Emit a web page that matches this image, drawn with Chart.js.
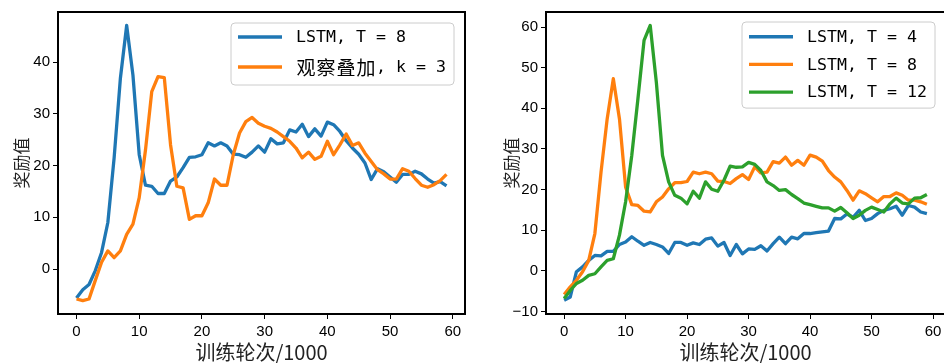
<!DOCTYPE html>
<html>
<head>
<meta charset="utf-8">
<script src="https://cdn.jsdelivr.net/npm/chart.js@4.4.1/dist/chart.umd.min.js"></script>
<style>
  html, body { margin: 0; padding: 0; background: #fff; overflow: hidden; width: 944px; height: 363px; }
  canvas { position: absolute; top: 0; }
  #leftChart { left: 0; }
  #rightChart { left: 472px; }
</style>
</head>
<body>
<canvas id="leftChart" width="472" height="363"></canvas>
<canvas id="rightChart" width="480" height="363"></canvas>
<script>
const epochs = [0, 1, 2, 3, 4, 5, 6, 7, 8, 9, 10, 11, 12, 13, 14, 15, 16, 17, 18, 19,
  20, 21, 22, 23, 24, 25, 26, 27, 28, 29, 30, 31, 32, 33, 34, 35, 36, 37, 38, 39,
  40, 41, 42, 43, 44, 45, 46, 47, 48, 49, 50, 51, 52, 53, 54, 55, 56, 57, 58, 59];

const xTicks = [0, 10, 20, 30, 40, 50, 60];
const leftYTicks = [0, 10, 20, 30, 40];
const rightYTicks = [-10, 0, 10, 20, 30, 40, 50, 60];

// left panel
const leftLabels = ["LSTM, T = 8", "观察叠加, k = 3"];
const leftLstm8 = [-5.6, -4.0, -3.0, -0.3, 3.2, 9.0, 21.5, 36.9, 47.1, 37.5,
  22.1, 16.2, 16.0, 14.6, 14.6, 17.0, 17.8, 19.6, 21.6, 21.7,
  22.1, 24.4, 23.8, 24.4, 23.8, 22.2, 22.1, 21.6, 22.6, 23.8,
  22.6, 25.2, 24.2, 24.4, 26.9, 26.5, 28.0, 25.6, 27.1, 25.7,
  28.4, 27.9, 26.6, 24.8, 23.4, 22.2, 20.5, 17.3, 19.4, 18.8,
  17.8, 16.8, 18.3, 18.3, 18.9, 18.4, 17.4, 16.6, 16.9, 16.1];
const leftStack3 = [-5.8, -6.1, -5.8, -2.2, 1.3, 3.5, 2.2, 3.5, 6.7, 8.7,
  13.8, 23.0, 34.3, 37.2, 37.0, 24.0, 16.0, 15.7, 9.6, 10.3,
  10.3, 12.8, 17.4, 16.2, 16.2, 22.1, 26.3, 28.5, 29.3, 28.2,
  27.6, 27.2, 26.5, 25.6, 24.7, 23.4, 21.5, 22.6, 21.2, 21.8,
  24.7, 22.1, 24.0, 26.1, 23.9, 24.4, 22.4, 20.8, 19.2, 18.4,
  17.4, 17.4, 19.4, 18.9, 17.5, 16.2, 15.8, 16.3, 17.1, 18.3];

// right panel
const rightLabels = ["LSTM, T = 4", "LSTM, T = 8", "LSTM, T = 12"];
const rightLstm4 = [-7.2, -6.4, -0.2, 1.0, 2.6, 3.8, 3.7, 4.8, 4.8, 6.5,
  7.1, 8.4, 7.3, 6.3, 7.0, 6.5, 5.9, 4.3, 7.0, 7.0,
  6.3, 6.9, 6.5, 7.8, 8.1, 6.1, 7.0, 3.8, 6.5, 4.2,
  5.4, 5.3, 6.2, 4.9, 6.7, 8.3, 6.7, 8.3, 7.9, 9.2,
  9.2, 9.4, 9.6, 9.8, 12.9, 12.8, 14.0, 13.2, 14.9, 12.4,
  12.9, 14.1, 14.9, 15.3, 15.9, 13.7, 16.1, 15.7, 14.5, 14.1];
const rightLstm8 = [-5.8, -3.9, -2.3, -0.2, 2.6, 9.2, 24.3, 37.4, 47.3, 37.4,
  20.6, 16.3, 16.1, 14.7, 14.5, 17.0, 18.2, 20.2, 21.7, 21.7,
  22.0, 24.3, 23.9, 24.3, 23.9, 22.1, 22.0, 21.5, 22.7, 23.7,
  22.5, 25.6, 24.1, 24.3, 26.9, 26.5, 28.0, 26.0, 27.2, 26.0,
  28.5, 28.0, 27.0, 24.7, 23.1, 21.9, 19.8, 17.4, 19.7, 19.0,
  18.0, 17.0, 18.3, 18.3, 19.2, 18.6, 17.4, 17.4, 17.0, 16.4];
const rightLstm12 = [-6.8, -4.8, -3.1, -2.3, -1.1, -0.7, 1.0, 2.6, 3.0, 8.8,
  17.0, 28.4, 42.3, 56.7, 60.4, 46.4, 28.4, 21.9, 18.6, 17.9,
  16.5, 19.6, 17.9, 21.9, 20.1, 19.6, 22.3, 25.8, 25.5, 25.6,
  26.7, 26.2, 24.7, 21.9, 21.0, 19.8, 20.0, 18.8, 17.8, 16.7,
  16.3, 15.9, 15.5, 15.5, 14.7, 15.6, 14.3, 12.9, 13.7, 14.9,
  15.7, 15.1, 14.5, 16.5, 17.9, 16.7, 16.5, 17.9, 18.0, 18.8];

const colors = ["#1f77b4", "#ff7f0e", "#2ca02c"];
const tickFont = { family: '"Liberation Sans", Arial, sans-serif', size: 15 };
const cjkFamily = '"Noto Sans CJK SC", sans-serif';

// SimHei-like: half-width cells for latin, full cells for CJK
function drawMixed(ctx, text, x, y, draw) {
  let cx = x;
  for (const ch of text) {
    const wide = ch.charCodeAt(0) > 0x2e80;
    const cell = wide ? 20 : 10;
    if (draw) {
      ctx.font = wide ? '19px "Noto Sans CJK SC"' : '16.6px "DejaVu Sans Mono"';
      ctx.textAlign = "center";
      ctx.textBaseline = "middle";
      ctx.fillText(ch, cx + cell / 2, y);
    }
    cx += cell;
  }
  return cx - x;
}

const boxLegend = {
  id: "boxLegend",
  afterDatasetsDraw(chart, args, opts) {
    const ctx = chart.ctx;
    const a = chart.chartArea;
    ctx.save();
    // axes frame
    ctx.strokeStyle = "#000";
    ctx.lineWidth = 2;
    ctx.strokeRect(a.left, a.top, a.right - a.left, a.bottom - a.top);

    const sets = chart.data.datasets;
    const textW = Math.max(...sets.map(d => drawMixed(ctx, d.label, 0, 0, false)));
    const w = 65 + textW + 8;
    const h = opts.padTop + opts.rowHeight * (sets.length - 1) + opts.padBottom;
    const x = a.right - opts.inset - w;
    const y = a.top + opts.inset;
    ctx.beginPath();
    ctx.roundRect(x, y, w, h, 4);
    ctx.fillStyle = "rgba(255,255,255,0.8)";
    ctx.fill();
    ctx.strokeStyle = "#cccccc";
    ctx.lineWidth = 1;
    ctx.stroke();

    sets.forEach((d, i) => {
      const ry = y + opts.padTop + i * opts.rowHeight;
      ctx.beginPath();
      ctx.moveTo(x + 7, ry);
      ctx.lineTo(x + 51, ry);
      ctx.strokeStyle = d.borderColor;
      ctx.lineWidth = 3.4;
      ctx.stroke();
      ctx.fillStyle = "#000";
      drawMixed(ctx, d.label, x + 65, ry + 1, true);
    });
    ctx.restore();
  }
};

function makeDatasets(labels, series) {
  return series.map((s, i) => ({
    label: labels[i],
    data: epochs.map((e, j) => ({ x: e, y: s[j] })),
    borderColor: colors[i],
    backgroundColor: colors[i],
    order: series.length - i
  }));
}

function makeOptions(cfg) {
  return {
    responsive: false,
    animation: false,
    layout: { padding: { top: 12, right: 7, left: 0, bottom: 0 } },
    plugins: {
      legend: { display: false },
      tooltip: { enabled: false },
      boxLegend: cfg.legend
    },
    elements: {
      point: { radius: 0 },
      line: { borderWidth: 3.3, tension: 0, borderJoinStyle: "round" }
    },
    scales: {
      x: {
        type: "linear",
        bounds: "data",
        min: -2.95,
        max: 61.95,
        afterBuildTicks: s => { s.ticks = xTicks.map(v => ({ value: v })); },
        afterFit: s => { s.height = 49; },
        grid: { drawOnChartArea: false, tickLength: 5, tickColor: "#000" },
        border: { display: false },
        ticks: { color: "#000", font: tickFont, padding: 4, maxRotation: 0, autoSkip: false },
        title: {
          display: true,
          text: "训练轮次/1000",
          color: "#222",
          font: { family: cjkFamily, size: 20, lineHeight: 1 },
          padding: { top: 0, bottom: 0.5 }
        }
      },
      y: {
        type: "linear",
        bounds: "data",
        min: cfg.yMin,
        max: cfg.yMax,
        afterBuildTicks: s => { s.ticks = cfg.yTicks.map(v => ({ value: v })); },
        afterFit: s => { s.width = cfg.yWidth; },
        grid: { drawOnChartArea: false, tickLength: 5, tickColor: "#000" },
        border: { display: false },
        ticks: {
          color: "#000",
          font: tickFont,
          padding: 3,
          autoSkip: false,
          callback: v => (v < 0 ? "\u2212" + Math.abs(v) : String(v))
        },
        title: {
          display: true,
          text: "奖励值",
          color: "#222",
          font: { family: cjkFamily, size: 17, lineHeight: 1 },
          padding: { top: cfg.titlePad, bottom: 0 }
        }
      }
    }
  };
}

new Chart(document.getElementById("leftChart"), {
  type: "line",
  data: { datasets: makeDatasets(leftLabels, [leftLstm8, leftStack3]) },
  options: makeOptions({
    yMin: -8.7, yMax: 49.7, yTicks: leftYTicks, yWidth: 58, titlePad: 13.5,
    legend: { inset: 11, padTop: 14, rowHeight: 30, padBottom: 18 }
  }),
  plugins: [boxLegend]
});

new Chart(document.getElementById("rightChart"), {
  type: "line",
  data: { datasets: makeDatasets(rightLabels, [rightLstm4, rightLstm8, rightLstm12]) },
  options: makeOptions({
    yMin: -10.6, yMax: 63.7, yTicks: rightYTicks, yWidth: 74, titlePad: 31.5,
    legend: { inset: 10, padTop: 14.7, rowHeight: 27.7, padBottom: 16 }
  }),
  plugins: [boxLegend]
});
</script>
</body>
</html>
